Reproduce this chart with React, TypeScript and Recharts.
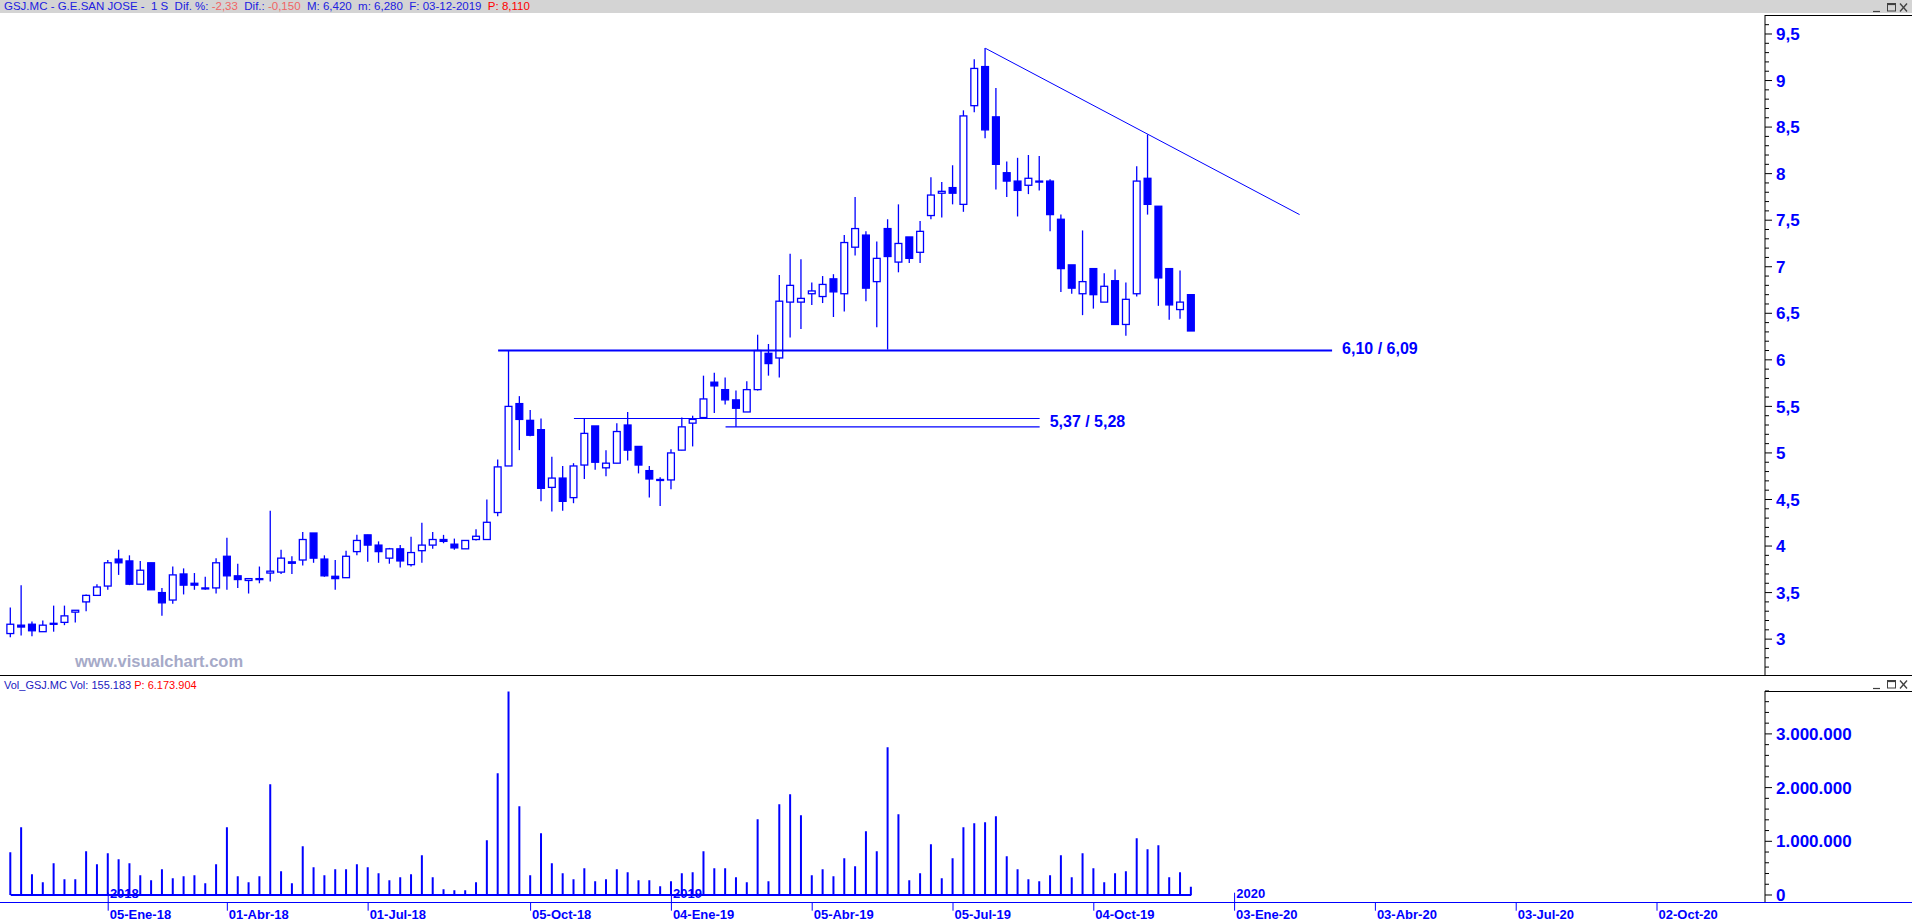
import React from 'react'
import { ComposedChart, Bar, XAxis, YAxis, ReferenceLine } from 'recharts'

// weekly candles GSJ.MC, week 1 = 03-Nov-17 ... week 110 = 06-Dic-19
const open = [
  3.06, 3.15, 3.16, 3.08, 3.16, 3.18, 3.29, 3.40, 3.47, 3.57,
  3.86, 3.84, 3.59, 3.82, 3.50, 3.42, 3.70, 3.60, 3.545, 3.55,
  3.89, 3.68, 3.63, 3.65, 3.71, 3.72, 3.83, 3.85, 4.14, 3.86,
  3.675, 3.66, 3.94, 4.12, 4.01, 3.87, 3.97, 3.80, 3.95, 4.01,
  4.07, 4.02, 3.97, 4.07, 4.07, 4.36, 4.86, 5.53, 5.35, 5.25,
  4.63, 4.73, 4.52, 4.87, 5.29, 4.84, 4.89, 5.30, 5.07, 4.81,
  4.71, 4.71, 5.03, 5.32, 5.38, 5.76, 5.68, 5.57, 5.44, 5.68,
  6.07, 6.02, 6.62, 6.62, 6.71, 6.68, 6.87, 6.71, 7.21, 7.34,
  6.84, 7.41, 7.05, 7.32, 7.155, 7.55, 7.79, 7.85, 7.67, 8.73,
  9.15, 8.61, 8.01, 7.92, 7.875, 7.915, 7.92, 7.51, 7.02, 6.71,
  6.98, 6.62, 6.85, 6.38, 6.71, 7.95, 7.65, 6.98, 6.54, 6.70,
]
const high = [
  3.34, 3.58, 3.19, 3.20, 3.36, 3.36, 3.31, 3.48, 3.59, 3.85,
  3.96, 3.90, 3.84, 3.82, 3.55, 3.78, 3.76, 3.71, 3.67, 3.87,
  4.09, 3.81, 3.65, 3.78, 4.38, 3.96, 3.89, 4.15, 4.14, 3.90,
  3.85, 3.95, 4.12, 4.12, 4.05, 3.98, 4.01, 4.10, 4.25, 4.15,
  4.12, 4.08, 4.06, 4.18, 4.50, 4.93, 6.10, 5.61, 5.46, 5.37,
  4.96, 4.86, 4.89, 5.37, 5.29, 5.03, 5.32, 5.44, 5.07, 4.86,
  4.74, 5.04, 5.38, 5.40, 5.83, 5.86, 5.81, 5.67, 5.77, 6.27,
  6.17, 6.91, 7.14, 7.08, 6.83, 6.90, 6.92, 7.34, 7.75, 7.38,
  7.27, 7.51, 7.67, 7.32, 7.49, 7.96, 7.91, 8.09, 8.68, 9.23,
  9.35, 8.92, 8.13, 8.17, 8.20, 8.19, 7.94, 7.56, 7.02, 7.39,
  6.98, 6.93, 6.97, 6.83, 8.08, 8.42, 7.65, 6.98, 6.96, 6.70,
]
const low = [
  3.02, 3.04, 3.03, 3.08, 3.08, 3.15, 3.18, 3.30, 3.47, 3.53,
  3.69, 3.58, 3.59, 3.53, 3.25, 3.38, 3.48, 3.53, 3.53, 3.49,
  3.53, 3.55, 3.49, 3.60, 3.62, 3.70, 3.70, 3.79, 3.82, 3.67,
  3.53, 3.66, 3.90, 3.83, 3.82, 3.81, 3.77, 3.78, 3.82, 3.97,
  4.03, 3.96, 3.97, 4.06, 4.07, 4.32, 4.86, 5.03, 5.18, 4.48,
  4.37, 4.38, 4.46, 4.72, 4.82, 4.75, 4.89, 4.92, 4.78, 4.52,
  4.43, 4.61, 5.03, 5.07, 5.38, 5.43, 5.52, 5.28, 5.44, 5.67,
  5.83, 5.81, 6.24, 6.33, 6.59, 6.61, 6.46, 6.52, 7.12, 6.63,
  6.35, 6.11, 6.94, 7.04, 7.04, 7.51, 7.53, 7.67, 7.59, 8.66,
  8.38, 7.83, 7.75, 7.54, 7.78, 7.82, 7.38, 6.73, 6.71, 6.48,
  6.55, 6.62, 6.38, 6.26, 6.68, 7.56, 6.58, 6.43, 6.44, 6.31,
]
const close = [
  3.16, 3.13, 3.09, 3.15, 3.17, 3.25, 3.31, 3.47, 3.56, 3.82,
  3.82, 3.59, 3.74, 3.53, 3.39, 3.69, 3.58, 3.58, 3.55, 3.82,
  3.68, 3.64, 3.65, 3.64, 3.73, 3.87, 3.815, 4.07, 3.87, 3.68,
  3.65, 3.89, 4.06, 4.01, 3.94, 3.97, 3.84, 3.93, 4.01, 4.07,
  4.05, 3.98, 4.06, 4.105, 4.255, 4.85, 5.50, 5.36, 5.19, 4.62,
  4.73, 4.48, 4.86, 5.21, 4.90, 4.89, 5.23, 5.03, 4.87, 4.72,
  4.715, 5.00, 5.28, 5.36, 5.58, 5.72, 5.57, 5.48, 5.68, 6.10,
  5.96, 6.63, 6.80, 6.66, 6.74, 6.81, 6.73, 7.26, 7.41, 6.77,
  7.09, 7.11, 7.25, 7.09, 7.38, 7.77, 7.81, 7.79, 8.62, 9.13,
  8.47, 8.10, 7.92, 7.82, 7.95, 7.92, 7.56, 6.98, 6.77, 6.84,
  6.70, 6.79, 6.38, 6.65, 7.92, 7.67, 6.88, 6.59, 6.62, 6.31,
]
const volume = [
  794000, 1260000, 385000, 236000, 590000, 292000, 292000, 813000, 571000, 776000,
  664000, 590000, 366000, 273000, 478000, 310000, 348000, 366000, 217000, 571000,
  1260000, 348000, 236000, 348000, 2061000, 441000, 217000, 906000, 515000, 366000,
  478000, 478000, 571000, 515000, 403000, 273000, 329000, 385000, 739000, 329000,
  106000, 87000, 87000, 236000, 1018000, 2266000, 3792000, 1651000, 366000, 1148000,
  590000, 403000, 292000, 497000, 254000, 292000, 478000, 422000, 273000, 273000,
  161000, 254000, 403000, 422000, 813000, 497000, 497000, 329000, 236000, 1409000,
  254000, 1688000, 1875000, 1483000, 366000, 478000, 348000, 683000, 534000, 1186000,
  813000, 2750000, 1502000, 273000, 403000, 943000, 310000, 683000, 1260000, 1335000,
  1353000, 1465000, 720000, 478000, 292000, 254000, 366000, 739000, 329000, 776000,
  497000, 236000, 403000, 441000, 1055000, 850000, 925000, 329000, 422000, 155183,
]

const TOTAL_WEEKS = 162 // axis runs on past the last candle, up to late 2020

const dateTicks = [10, 21, 34, 49, 62, 75, 88, 101, 114, 127, 140, 153]
const dateLabels = [
  '05-Ene-18', '01-Abr-18', '01-Jul-18', '05-Oct-18', '04-Ene-19', '05-Abr-19',
  '05-Jul-19', '04-Oct-19', '03-Ene-20', '03-Abr-20', '03-Jul-20', '02-Oct-20',
]
const yearTicks = [10, 62, 114]
const yearLabels = ['2018', '2019', '2020']

const priceLabels = [3, 3.5, 4, 4.5, 5, 5.5, 6, 6.5, 7, 7.5, 8, 8.5, 9, 9.5]
const volumeLabels = [0, 1000000, 2000000, 3000000]

// drawn studies
const trendStart = { week: 91, price: 9.346 }
const trendEnd = { week: 120, price: 7.56 }
const resistance = { price: 6.1, from: 46, to: 123, label: '6,10 / 6,09' }
const supportHigh = { price: 5.37, from: 53, to: 96, label: '5,37 / 5,28' }
const supportLow = { price: 5.28, from: 67, to: 96 }

const BLUE = '#0000ff'
const FONT = '"Liberation Sans", Arial, sans-serif'

type Row = { i: number; o?: number; h?: number; l?: number; c?: number; v?: number }

const rows: Row[] = Array.from({ length: TOTAL_WEEKS }, (_, k) =>
  k < open.length
    ? { i: k + 1, o: open[k], h: high[k], l: low[k], c: close[k], v: volume[k] }
    : { i: k + 1 }
)

const priceMinor = Array.from({ length: 71 }, (_, k) => Math.round((2.7 + k * 0.1) * 10) / 10)
const volumeMinor = Array.from({ length: 20 }, (_, k) => k * 200000)

const fmtPrice = (v: number) => String(v).replace('.', ',')
const fmtVol = (v: number) => v.toLocaleString('de-DE')

const Candle = (props: any) => {
  const { x, y, width, height, payload } = props
  if (payload == null || payload.h == null) return null
  const top = Math.min(y, y + height)
  const span = Math.abs(height)
  const k = span / (payload.h - payload.l || 1)
  const py = (v: number) => top + (payload.h - v) * k
  const cx = x + width / 2
  const up = payload.c >= payload.o
  const bTop = py(Math.max(payload.o, payload.c))
  const bBot = py(Math.min(payload.o, payload.c))
  return (
    <g>
      <line x1={cx} x2={cx} y1={top} y2={top + span} stroke={BLUE} strokeWidth={1.3} />
      <rect
        x={x + 0.6}
        y={bTop}
        width={width - 1.2}
        height={Math.max(bBot - bTop, 1)}
        fill={up ? '#ffffff' : BLUE}
        stroke={BLUE}
        strokeWidth={1.3}
      />
    </g>
  )
}

const PriceTick = (props: any) => {
  const { x, y, payload } = props
  const v = payload.value
  const major = priceLabels.some((p) => Math.abs(p - v) < 1e-6)
  return (
    <g>
      <line x1={x} x2={x + (major ? 7 : 4)} y1={y} y2={y} stroke="#000" />
      {major && (
        <text x={x + 11} y={y} dy="0.36em" fill={BLUE} fontFamily={FONT} fontWeight="bold" fontSize={17}>
          {fmtPrice(v)}
        </text>
      )}
    </g>
  )
}

const VolumeTick = (props: any) => {
  const { x, y, payload } = props
  const v = payload.value
  const major = volumeLabels.includes(v)
  return (
    <g>
      <line x1={x} x2={x + (major ? 7 : 4)} y1={y} y2={y} stroke="#000" />
      {major && (
        <text x={x + 11} y={y} dy="0.36em" fill={BLUE} fontFamily={FONT} fontWeight="bold" fontSize={17}>
          {fmtVol(v)}
        </text>
      )}
    </g>
  )
}

const DateTick = (props: any) => {
  const { x, y, payload } = props
  const idx = dateTicks.indexOf(payload.value)
  const yi = yearTicks.indexOf(payload.value)
  return (
    <g>
      <line x1={x} x2={x} y1={y} y2={y + 8} stroke={BLUE} />
      <text x={x + 1.5} y={y + 16.2} fill={BLUE} fontFamily={FONT} fontWeight="bold" fontSize={13}>
        {dateLabels[idx]}
      </text>
      {yi >= 0 && (
        <g>
          <line x1={x} x2={x} y1={y} y2={y - 10} stroke={BLUE} />
          <text x={x + 1.7} y={y - 5.2} fill={BLUE} fontFamily={FONT} fontWeight="bold" fontSize={13}>
            {yearLabels[yi]}
          </text>
        </g>
      )}
    </g>
  )
}

const WinButtons = ({ top }: { top: number }) => (
  <svg style={{ position: 'absolute', left: 1872, top }} width={38} height={11}>
    <line x1={1} x2={8} y1={9.5} y2={9.5} stroke="#404040" strokeWidth={1.2} />
    <rect x={15.5} y={1.5} width={8} height={7.5} fill="none" stroke="#404040" strokeWidth={1} />
    <line x1={15.5} x2={23.5} y1={2.3} y2={2.3} stroke="#404040" strokeWidth={1.6} />
    <line x1={28} x2={35} y1={1.5} y2={9.5} stroke="#404040" strokeWidth={1.3} />
    <line x1={35} x2={28} y1={1.5} y2={9.5} stroke="#404040" strokeWidth={1.3} />
  </svg>
)

const xPadding = { left: 0.3, right: 5.1 }

export default function App() {
  return (
    <div style={{ position: 'absolute', left: 0, top: 0, width: 1912, height: 922, background: '#fff', overflow: 'hidden' }}>
      {/* title bar */}
      <div style={{ position: 'absolute', left: 0, top: 0, width: 1912, height: 13, background: '#d4d4d4' }} />
      <div
        style={{
          position: 'absolute', left: 4, top: 0, height: 13, lineHeight: '13px',
          fontFamily: FONT, fontSize: 11.5, color: '#2020e0', whiteSpace: 'pre',
        }}
      >
        GSJ.MC - G.E.SAN JOSE -  1 S  Dif. %: <span style={{ color: '#f06464' }}>-2,33</span>  Dif.:{' '}
        <span style={{ color: '#f06464' }}>-0,150</span>  M: 6,420  m: 6,280  F: 03-12-2019{'  '}
        <span style={{ color: '#ff0000' }}>P: 8,110</span>
      </div>
      <WinButtons top={2} />
      <div style={{ position: 'absolute', left: 1765, top: 15, width: 147, height: 1, background: '#000' }} />

      {/* price panel */}
      <div style={{ position: 'absolute', left: 0, top: 15 }}>
        <ComposedChart width={1912} height={661} data={rows} margin={{ top: 0, right: 0, bottom: 0, left: 5 }}>
          <XAxis dataKey="i" type="category" hide padding={xPadding} />
          <YAxis
            orientation="right"
            width={147}
            type="number"
            domain={[2.604, 9.704]}
            allowDataOverflow
            ticks={priceMinor}
            interval={0}
            tickSize={0}
            tickMargin={0}
            tickLine={false}
            axisLine={{ stroke: '#000' }}
            tick={PriceTick}
          />
          <Bar
            dataKey={(d: Row) => (d.h == null ? null : [d.l, d.h])}
            barSize={8}
            shape={(p: any) => <Candle {...p} />}
            isAnimationActive={false}
          />
          <ReferenceLine
            segment={[{ x: resistance.from, y: resistance.price }, { x: resistance.to, y: resistance.price }]}
            stroke={BLUE}
            strokeWidth={2}
            label={{
              value: resistance.label, position: 'right', offset: 10, fill: BLUE,
              fontSize: 16, fontWeight: 'bold', fontFamily: FONT, dy: -2,
            }}
          />
          <ReferenceLine
            segment={[{ x: supportHigh.from, y: supportHigh.price }, { x: supportHigh.to, y: supportHigh.price }]}
            stroke={BLUE}
            strokeWidth={1.2}
            label={{
              value: supportHigh.label, position: 'right', offset: 10, fill: BLUE,
              fontSize: 16, fontWeight: 'bold', fontFamily: FONT, dy: 3,
            }}
          />
          <ReferenceLine
            segment={[{ x: supportLow.from, y: supportLow.price }, { x: supportLow.to, y: supportLow.price }]}
            stroke={BLUE}
            strokeWidth={1.2}
          />
          <ReferenceLine
            segment={[{ x: trendStart.week, y: trendStart.price }, { x: trendEnd.week, y: trendEnd.price }]}
            stroke={BLUE}
            strokeWidth={1}
          />
        </ComposedChart>
      </div>
      <div
        style={{
          position: 'absolute', left: 75, top: 652, lineHeight: '18px', fontFamily: FONT,
          fontWeight: 'bold', fontSize: 16.5, color: '#a6aac8',
        }}
      >
        www.visualchart.com
      </div>

      {/* panel separator */}
      <div style={{ position: 'absolute', left: 0, top: 675, width: 1912, height: 1.3, background: '#000' }} />

      {/* volume panel */}
      <div
        style={{
          position: 'absolute', left: 4, top: 679, height: 13, lineHeight: '13px',
          fontFamily: FONT, fontSize: 11, color: '#2020c0', whiteSpace: 'pre',
        }}
      >
        Vol_GSJ.MC Vol: 155.183 <span style={{ color: '#ff0000' }}>P: 6.173.904</span>
      </div>
      <WinButtons top={679} />
      <div style={{ position: 'absolute', left: 1765, top: 691, width: 147, height: 1, background: '#000' }} />
      <div style={{ position: 'absolute', left: 0, top: 682 }}>
        <ComposedChart width={1912} height={240} data={rows} margin={{ top: 9, right: 0, bottom: 0, left: 5 }}>
          <XAxis
            dataKey="i"
            type="category"
            padding={xPadding}
            height={19.3}
            ticks={dateTicks}
            interval={0}
            tickSize={0}
            tickMargin={0}
            tickLine={false}
            axisLine={false}
            tick={DateTick}
          />
          <YAxis
            orientation="right"
            width={147}
            type="number"
            domain={[-143400, 3799000]}
            allowDataOverflow
            ticks={volumeMinor}
            interval={0}
            tickSize={0}
            tickMargin={0}
            tickLine={false}
            axisLine={{ stroke: '#000' }}
            tick={VolumeTick}
          />
          <Bar dataKey="v" barSize={2} fill={BLUE} isAnimationActive={false} />
          <ReferenceLine segment={[{ x: 1, y: 0 }, { x: open.length, y: 0 }]} stroke={BLUE} strokeWidth={2.2} />
        </ComposedChart>
      </div>
      <div style={{ position: 'absolute', left: 0, top: 902, width: 1912, height: 1.2, background: BLUE }} />
    </div>
  )
}
